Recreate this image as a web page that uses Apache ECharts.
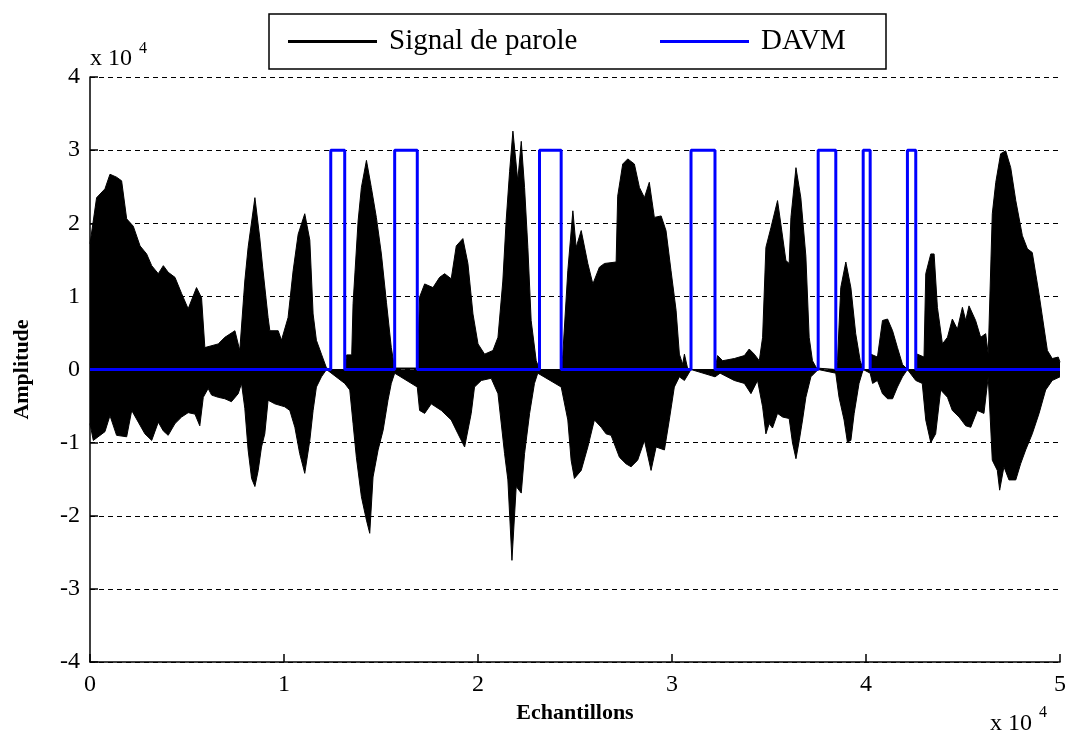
<!DOCTYPE html>
<html>
<head>
<meta charset="utf-8">
<title>Signal de parole / DAVM</title>
<script src="https://cdn.jsdelivr.net/npm/echarts@6/dist/echarts.min.js"></script>
<style>
  html, body { margin: 0; padding: 0; background: #fff; }
  #chart { width: 1069px; height: 736px; }
</style>
</head>
<body>
<div id="chart"></div>
<script>
// enveloppe du signal de parole (echantillons, amplitude)
var upperX = [0, 340, 770, 1030, 1370, 1630, 1890, 2230, 2580, 2920, 3180, 3520, 3780, 4030, 4380, 4720, 5060, 5490, 5750, 5920,
  6610, 6950, 7470, 7720, 7980, 8150, 8500, 8750, 8900, 9180, 9270, 9700, 9870, 10210, 10470, 10730, 11070, 11330, 11500, 11670,
  11930, 12190, 12400, 13130, 13230, 13490, 13560, 13820, 13990, 14250, 14500, 14760, 15020, 15280, 15530, 15700, 16870, 16990, 17250, 17680,
  18020, 18280, 18620, 18880, 19220, 19480, 19740, 20000, 20340, 20770, 21030, 21280, 21450, 21630, 21800, 22050, 22230, 22400, 22570, 22740,
  23000, 23170, 24290, 24370, 24630, 24890, 25060, 25320, 25660, 25920, 26260, 26520, 27120, 27200, 27460, 27720, 28060, 28320, 28580, 28830,
  29090, 29440, 29690, 29950, 30210, 30380, 30550, 30640, 30800, 30980, 32220, 32350, 32610, 33210, 33730, 33980, 34240, 34500, 34670, 34840,
  35100, 35440, 35610, 35870, 36040, 36130, 36390, 36640, 36900, 37070, 37240, 37450, 37535, 38440, 38530, 38700, 38960, 39220, 39470, 39700,
  39855, 40215, 40250, 40590, 40850, 41110, 41370, 41620, 41880, 42135, 42565, 42650, 42990, 43080, 43340, 43510, 43680, 43940, 44200, 44450,
  44710, 44970, 45140, 45310, 45650, 45910, 46170, 46300, 46510, 46690, 46940, 47200, 47460, 47720, 48060, 48320, 48570, 48920, 49170, 49350,
  49600, 49910, 50000];
var upperY = [17200, 23500, 24700, 26700, 26300, 25800, 20600, 19600, 16900, 15800, 14200, 13100, 14200, 13300, 12600, 10400, 8300, 11200, 9800, 3000,
  3500, 4400, 5300, 2600, 12100, 16700, 23500, 18000, 14000, 7100, 5300, 5300, 4000, 7100, 13500, 18500, 21300, 17700, 7600, 4000,
  2100, 200, 0, 0, 2000, 2000, 9000, 20300, 24900, 28600, 24900, 20800, 15800, 9200, 3000, 200, 200, 9900, 11700, 11200,
  12600, 13100, 12400, 16900, 17900, 14500, 7600, 3500, 2100, 2600, 4400, 12100, 20300, 27100, 32600, 25800, 31200, 24900, 16700, 6700,
  1200, 0, 0, 2000, 13500, 21700, 16700, 19000, 14500, 11700, 14000, 14500, 14700, 23700, 28100, 28800, 28100, 24900, 23500, 25600,
  20800, 21000, 19000, 13500, 8100, 2100, 700, 2100, 200, 0, 0, 1900, 1200, 1500, 1900, 2800, 2100, 1200, 4400, 16700,
  19400, 23100, 19900, 14900, 14500, 20800, 27600, 23500, 15500, 4400, 1200, 200, 0, 0, 1200, 11200, 14700, 11200, 4900, 1200,
  0, 0, 2100, 1700, 6700, 6900, 5300, 3000, 700, 0, 0, 2100, 1700, 13100, 15800, 15800, 8500, 3500, 4400, 6900,
  5500, 8500, 6700, 8700, 6700, 4400, 4900, 2100, 21300, 25600, 29500, 29900, 27600, 23100, 18300, 16500, 16000, 10300, 5800, 2600,
  1500, 1700, 1000];

var lowerX = [0, 170, 770, 1030, 1370, 1890, 2150, 2490, 2830, 3180, 3520, 3780, 4030, 4380, 4720, 5060, 5410, 5660, 5840, 6090,
  6270, 6610, 6950, 7290, 7640, 7810, 7980, 8150, 8330, 8500, 8670, 8840, 9010, 9180, 9530, 10040, 10300, 10560, 10810, 11070,
  11330, 11500, 11670, 11930, 12190, 13130, 13390, 13560, 13730, 13990, 14250, 14420, 14590, 14850, 15110, 15360, 15530, 15705, 16870, 16990,
  17250, 17590, 18110, 18620, 18970, 19310, 19650, 19820, 20170, 20680, 21030, 21370, 21540, 21750, 21970, 22230, 22400, 22660, 22910, 23080,
  24290, 24630, 24800, 24970, 25320, 25660, 26000, 26350, 26600, 26860, 27290, 27630, 27890, 28230, 28580, 28920, 29180, 29610, 29860, 30120,
  30380, 30640, 30980, 32220, 32480, 33210, 33730, 34070, 34410, 34670, 34840, 35010, 35180, 35440, 35700, 36040, 36210, 36390, 36560, 36730,
  36900, 37160, 37535, 38440, 38610, 38870, 39040, 39220, 39390, 39640, 39855, 40215, 40340, 40590, 40850, 41110, 41370, 41620, 41880, 42135,
  42565, 42900, 43080, 43340, 43590, 43850, 44200, 44450, 44800, 45140, 45400, 45740, 46080, 46300, 46510, 46770, 46890, 47110, 47370, 47720,
  47970, 48230, 48570, 48920, 49260, 49600, 50000];
var lowerY = [-7400, -9700, -8500, -6300, -9000, -9200, -5600, -7200, -8800, -9700, -7200, -8400, -9000, -7400, -6500, -5900, -6100, -7700, -3800, -2600,
  -3500, -3800, -4000, -4400, -3300, -1900, -5300, -11000, -14900, -16000, -13800, -10600, -8800, -4200, -4700, -5100, -5600, -7900, -11500, -14200,
  -9700, -5600, -2400, -1000, 0, -1900, -2800, -7400, -12000, -17400, -20600, -22400, -14700, -11000, -8300, -4200, -1900, -500, -2400, -5600,
  -6000, -4700, -5600, -6900, -8800, -10600, -6000, -2400, -1500, -1200, -3300, -11500, -15100, -26100, -16000, -16900, -11500, -6000, -1900, -500,
  -2400, -6900, -12400, -14900, -13800, -10600, -6900, -7900, -8800, -9000, -12000, -12900, -13300, -12400, -9700, -13800, -10600, -11000, -6900, -2400,
  -1000, -1500, 0, -1000, -500, -1500, -1900, -3300, -1500, -5100, -8800, -7400, -8000, -6000, -6500, -6700, -10000, -12200, -9700, -6900,
  -3800, -1000, 0, -500, -3800, -6900, -9900, -9700, -6000, -1900, 0, -500, -1900, -1500, -3300, -4000, -4000, -2400, -1000, 0,
  -1500, -1900, -6900, -10000, -8800, -2800, -3800, -5600, -6500, -7700, -7900, -5600, -6000, -1000, -12400, -13800, -16500, -13300, -15100, -15100,
  -12900, -11000, -8800, -6000, -2800, -1500, -1000];

// DAVM : segments actifs
var davmStart = [12410, 15705, 23170, 30980, 37535, 39855, 42135];
var davmEnd = [13130, 16870, 24287, 32216, 38443, 40215, 42565];
var davmHigh = 30000;

var nSamples = 50000;
var ampMax = 40000;

function zip(xs, ys) {
  return xs.map(function (x, i) { return [x, ys[i]] })
}

var davmData = [[0, 0]];
davmStart.forEach(function (s, i) {
  davmData.push([s, 0], [s, davmHigh], [davmEnd[i], davmHigh], [davmEnd[i], 0]);
});
davmData.push([nSamples, 0]);

var font = 'Liberation Serif';
var chart = echarts.init(document.getElementById('chart'));

chart.setOption({
  animation: false,
  backgroundColor: '#fff',
  grid: {
    left: 90,
    right: 8,
    top: 77,
    bottom: 74
  },
  legend: {
    left: 269,
    top: 14,
    padding: [12, 25, 12, 19],
    borderColor: '#000',
    borderWidth: 1.5,
    itemWidth: 89,
    itemHeight: 3,
    itemGap: 51,
    icon: 'rect',
    textStyle: {
      fontFamily: font,
      fontSize: 29,
      color: '#000',
      lineHeight: 31,
      padding: [0, 0, 0, 7]
    },
    data: [
      { name: 'Signal de parole', textStyle: { width: 220 } },
      { name: 'DAVM', textStyle: { width: 100 } }
    ]
  },
  xAxis: {
    type: 'value',
    min: 0,
    max: nSamples,
    interval: 10000,
    name: 'Echantillons',
    nameLocation: 'middle',
    nameGap: 40,
    nameTextStyle: {
      fontFamily: font,
      fontSize: 22,
      fontWeight: 'bold',
      color: '#000'
    },
    axisLine: { onZero: false, lineStyle: { color: '#000', width: 1.5 } },
    axisTick: { inside: true, length: 8, lineStyle: { color: '#000', width: 1.5 } },
    axisLabel: {
      margin: 11,
      fontFamily: font,
      fontSize: 24,
      color: '#000',
      formatter: function (v) { return v / 10000 }
    },
    splitLine: { show: false }
  },
  yAxis: {
    type: 'value',
    min: -ampMax,
    max: ampMax,
    interval: 10000,
    name: 'Amplitude',
    nameLocation: 'middle',
    nameGap: 57,
    nameTextStyle: {
      fontFamily: font,
      fontSize: 22,
      fontWeight: 'bold',
      color: '#000'
    },
    axisLine: { show: true, lineStyle: { color: '#000', width: 1.5 } },
    axisTick: { show: true, inside: true, length: 8, lineStyle: { color: '#000', width: 1.5 } },
    axisLabel: {
      margin: 10,
      fontFamily: font,
      fontSize: 24,
      color: '#000',
      formatter: function (v) { return v / 10000 }
    },
    splitLine: {
      show: true,
      lineStyle: { color: '#000', width: 1, type: [5, 4] }
    }
  },
  graphic: [
    { type: 'text', left: 90, top: 47, style: { text: 'x 10', font: '24px "Liberation Serif"', fill: '#000' } },
    { type: 'text', left: 139, top: 41, style: { text: '4', font: '16px "Liberation Serif"', fill: '#000' } },
    { type: 'text', left: 990, top: 712, style: { text: 'x 10', font: '24px "Liberation Serif"', fill: '#000' } },
    { type: 'text', left: 1039, top: 705, style: { text: '4', font: '16px "Liberation Serif"', fill: '#000' } }
  ],
  series: [
    {
      name: 'Signal de parole',
      type: 'line',
      data: zip(upperX, upperY),
      showSymbol: false,
      symbol: 'none',
      itemStyle: { color: '#000' },
      lineStyle: { color: '#000', width: 1 },
      areaStyle: { color: '#000', opacity: 1, origin: 0 },
      z: 2
    },
    {
      name: 'Signal de parole',
      type: 'line',
      data: zip(lowerX, lowerY),
      showSymbol: false,
      symbol: 'none',
      itemStyle: { color: '#000' },
      lineStyle: { color: '#000', width: 1 },
      areaStyle: { color: '#000', opacity: 1, origin: 0 },
      z: 2
    },
    {
      name: 'DAVM',
      type: 'line',
      data: davmData,
      showSymbol: false,
      symbol: 'none',
      itemStyle: { color: '#0000ff' },
      lineStyle: { color: '#0000ff', width: 3 },
      z: 3
    }
  ]
});
</script>
</body>
</html>
